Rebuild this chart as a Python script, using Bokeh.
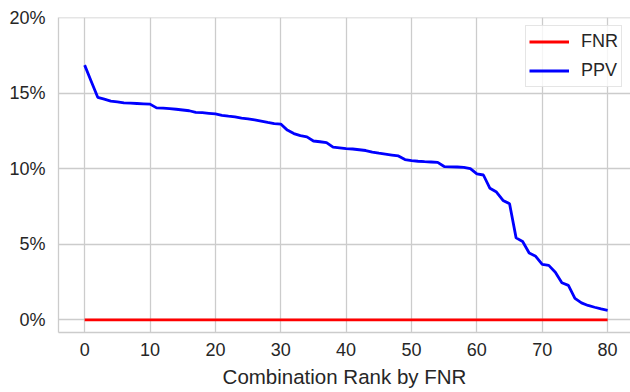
from bokeh.plotting import figure
from bokeh.models import Range1d, FixedTicker, Span, Legend, LegendItem
from bokeh.embed import file_html
from bokeh.resources import INLINE

# Rank of each feature combination (sorted by FNR)
rank = list(range(81))

# False negative rate per combination, in percent
fnr = [0.0] * 81

# Positive predictive value per combination, in percent
ppv = [
    16.85, 15.78, 14.72, 14.60, 14.47, 14.42, 14.35, 14.33, 14.31, 14.29,
    14.27, 14.02, 14.00, 13.97, 13.93, 13.88, 13.83, 13.73, 13.70, 13.66,
    13.62, 13.53, 13.47, 13.42, 13.34, 13.30, 13.23, 13.15, 13.06, 12.98,
    12.95, 12.55, 12.32, 12.18, 12.10, 11.83, 11.78, 11.72, 11.42, 11.38,
    11.33, 11.30, 11.25, 11.20, 11.10, 11.02, 10.96, 10.90, 10.84, 10.60,
    10.53, 10.49, 10.46, 10.44, 10.42, 10.14, 10.12, 10.11, 10.09, 10.00,
    9.65, 9.58, 8.70, 8.45, 7.90, 7.68, 5.42, 5.18, 4.42, 4.20,
    3.66, 3.60, 3.15, 2.45, 2.28, 1.42, 1.12, 0.95, 0.83, 0.72,
    0.63,
]

x_ticks = [0, 10, 20, 30, 40, 50, 60, 70, 80]
y_ticks = [0, 5, 10, 15, 20]
y_tick_labels = ["0%", "5%", "10%", "15%", "20%"]

FONT = "Liberation Sans"
TEXT = "#262626"
GRID = "#cccccc"

p = figure(
    width=630, height=392,
    x_range=Range1d(-4, 83.5), y_range=Range1d(-0.84, 20),
    output_backend="svg", toolbar_location=None,
    min_border_left=58, min_border_right=0,
    min_border_top=17, min_border_bottom=60,
    background_fill_color="white", border_fill_color="white",
)
p.outline_line_color = None

# axes
for ax in (p.xaxis[0], p.yaxis[0]):
    ax.axis_line_color = GRID
    ax.axis_line_width = 1.3
    ax.major_tick_line_color = None
    ax.major_tick_out = 0
    ax.major_tick_in = 0
    ax.minor_tick_line_color = None
    ax.minor_tick_out = 0
    ax.major_label_text_font = FONT
    ax.major_label_text_font_size = "18px"
    ax.major_label_text_color = TEXT

p.xaxis.ticker = FixedTicker(ticks=x_ticks)
p.yaxis.ticker = FixedTicker(ticks=y_ticks)
p.yaxis.major_label_overrides = dict(zip(y_ticks, y_tick_labels))
p.xaxis.major_label_standoff = 10
p.yaxis.major_label_standoff = 13

p.xaxis.axis_label = "Combination Rank by FNR"
p.xaxis.axis_label_text_font = FONT
p.xaxis.axis_label_text_font_size = "20.5px"
p.xaxis.axis_label_text_font_style = "normal"
p.xaxis.axis_label_text_color = TEXT
p.xaxis.axis_label_standoff = 6

p.xgrid.grid_line_color = GRID
p.ygrid.grid_line_color = GRID
p.xgrid.grid_line_width = 1.3
p.ygrid.grid_line_width = 1.3

# top spine
p.add_layout(Span(location=20, dimension="width", line_color=GRID, line_width=1.3))

r_fnr = p.line(rank, fnr, line_color="#ff0000", line_width=2.8)
r_ppv = p.line(rank, ppv, line_color="#0000ff", line_width=2.8)

legend = Legend(
    items=[LegendItem(label="FNR", renderers=[r_fnr]),
           LegendItem(label="PPV", renderers=[r_ppv])],
    location="top_right",
    margin=8, padding=3, spacing=4,
    glyph_width=40, glyph_height=25, label_height=25,
    label_standoff=12,
    label_text_font=FONT, label_text_font_size="18px", label_text_color=TEXT,
    border_line_color="#cccccc", border_line_width=1.2,
    background_fill_color="white", background_fill_alpha=0.8,
)
p.add_layout(legend)

open("out.html", "w").write(file_html(p, INLINE))
